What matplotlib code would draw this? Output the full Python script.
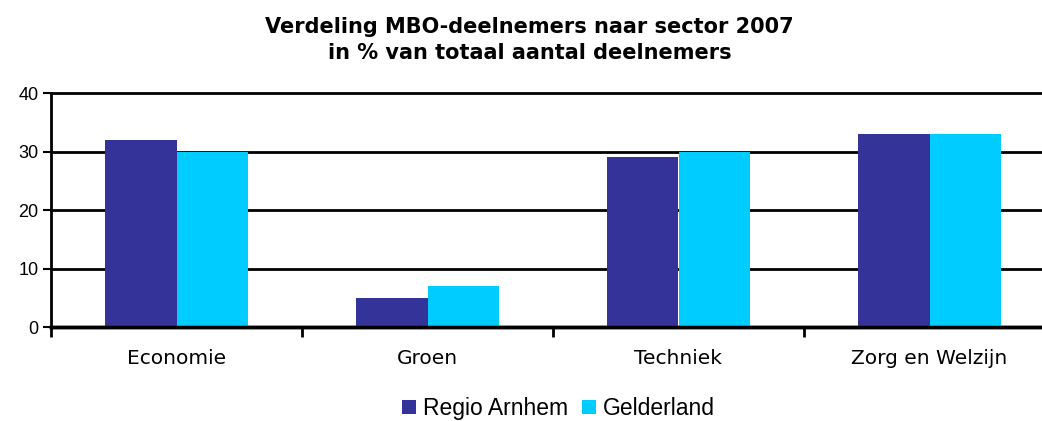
import numpy as np
from matplotlib import pyplot as plt

# data
sectors = ['Economie', 'Groen', 'Techniek', 'Zorg en Welzijn']
regio_arnhem = [32, 5, 29, 33]
gelderland = [30, 7, 30, 33]
yticks = [0, 10, 20, 30, 40]

fig = plt.figure(figsize=(10.42, 4.21), dpi=100)
# axes runs a bit past the right edge, as in the original
ax = fig.add_axes([51 / 1042, 94 / 421, 1004 / 1042, 234 / 421])

x = np.arange(len(sectors))
w = 0.285
ax.bar(x - w / 2, regio_arnhem, width=w, color='#333399', label='Regio Arnhem', zorder=3)
ax.bar(x + w / 2, gelderland, width=w, color='#00ccff', label='Gelderland', zorder=3)

ax.set_xlim(-0.5, len(sectors) - 0.5)
ax.set_ylim(0, 40)
ax.set_yticks(yticks)
ax.set_yticklabels([str(v) for v in yticks], fontfamily='Liberation Sans', fontsize=13)
ax.yaxis.grid(True, color='black', lw=2, zorder=2)
for gl in ax.get_ygridlines():
    gl.set_clip_on(False)
ax.set_axisbelow(True)
ax.axhline(0, color='black', lw=2.5, zorder=4, clip_on=False)

ax.set_xticks(x)
ax.set_xticklabels(sectors, fontsize=14.5)
ax.tick_params(axis='x', length=0, pad=16)
# category boundary ticks
ax.set_xticks(np.arange(len(sectors) + 1) - 0.5, minor=True)
ax.tick_params(axis='x', which='minor', length=7, width=2, direction='out')
ax.tick_params(axis='y', length=6, width=1.5, direction='out', pad=3)

for s in ['top', 'right']:
    ax.spines[s].set_visible(False)
ax.spines['left'].set_linewidth(2)
ax.spines['bottom'].set_linewidth(2.5)

fig.text(0.508, 0.905, 'Verdeling MBO-deelnemers naar sector 2007\nin % van totaal aantal deelnemers',
         ha='center', va='center', fontsize=15, fontweight='bold', linespacing=1.4)

fig.legend(loc='center', bbox_to_anchor=(0.536, 0.03), ncol=2, frameon=False,
           prop={'family': 'Liberation Sans', 'size': 16.5}, handlelength=0.6, handleheight=0.6,
           handletextpad=0.3, columnspacing=0.6, borderpad=0.1)

fig.savefig('out.png', dpi=100)
